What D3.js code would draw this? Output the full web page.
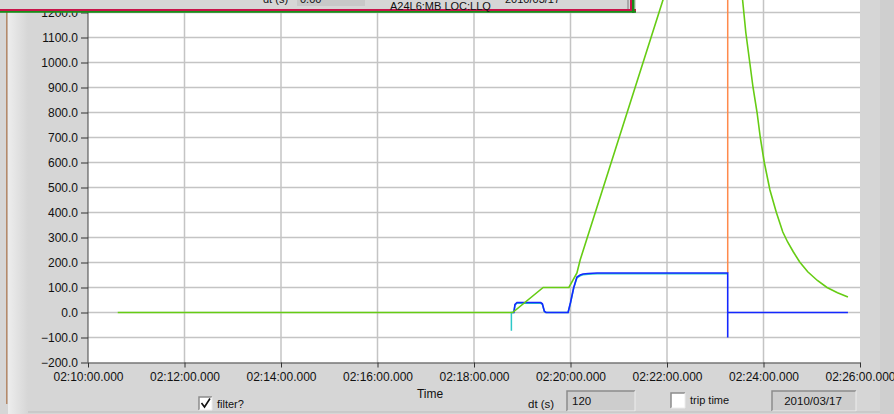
<!DOCTYPE html>
<html><head><meta charset="utf-8">
<script src="https://cdn.jsdelivr.net/npm/d3@7"></script>
<style>
html,body{margin:0;padding:0;background:#d6d6d6;overflow:hidden}
svg{display:block;font-family:"Liberation Sans",Arial,sans-serif}
</style></head>
<body>
<svg id="c" width="894" height="414"></svg>
<script>
// ---- data (seconds after 02:10:00, 2010/03/17) ----
const xTickLabels = ["02:10:00.000","02:12:00.000","02:14:00.000","02:16:00.000","02:18:00.000","02:20:00.000","02:22:00.000","02:24:00.000","02:26:00.000"];
const yTicks = [-200,-100,0,100,200,300,400,500,600,700,800,900,1000,1100,1200];

const greenT = [37, 528, 566, 598, 608, 612, 715, 796, 814, 818, 823, 827, 832, 836, 841, 848, 856, 864, 870, 877, 885, 895, 907, 919, 932, 945];
const greenV = [0, 0, 100, 100, 158, 210, 1250, 2050, 1250, 1120, 998, 900, 800, 700, 600, 490, 400, 322, 282, 243, 202, 163, 128, 100, 79, 62];

const blueT = [528, 529.5, 531, 533.5, 540, 563, 565, 567.5, 569.5, 597, 600, 604, 608, 612, 615.5, 622, 633, 795.5, 795.5, 795.5, 945];
const blueV = [0, 0, 32, 40, 40, 40, 35, 5, 0, 0, 40, 100, 142, 150, 154, 156, 158, 158, -100, 0, 0];

const cyanT = [526.5, 526.5, 529.5, 531, 533.5, 540, 563, 565, 567.5, 569.5, 597, 600, 604, 608, 612, 615.5, 622, 633, 795.5];
const cyanV = [-73, 0, 0, 30, 37, 37, 37, 33, 4, 0, 0, 38, 98, 139, 147, 151, 153, 155, 155];

const orangeT = [795.5, 795.5];
const orangeV = [158, 2600];

const bottomControls = {filter: "filter?", time: "Time", dtLabel: "dt (s)", dtValue: "120", trip: "trip time", date: "2010/03/17"};

// ---- drawing ----
const svg = d3.select("#c");
const base = new Date(2010, 2, 17, 2, 10, 0);
const toDate = s => new Date(base.getTime() + s * 1000);
const L = 88, R = 860, B = 362.5, T = 12.5;

const x = d3.scaleTime().domain([toDate(0), toDate(960)]).range([L, R]);
const y = d3.scaleLinear().domain([-200, 1200]).range([B, T]);

// left frame decoration
const grad = svg.append("defs").append("linearGradient").attr("id","lg").attr("x1","0").attr("x2","1");
grad.append("stop").attr("offset","0").attr("stop-color","#ededed");
grad.append("stop").attr("offset","1").attr("stop-color","#d6d6d6");
svg.append("rect").attr("x",8).attr("y",0).attr("width",20).attr("height",414).attr("fill","url(#lg)");
svg.append("rect").attr("x",6).attr("y",12).attr("width",1.5).attr("height",392).attr("fill","#b58a6a");
svg.append("rect").attr("x",880).attr("y",0).attr("width",14).attr("height",414).attr("fill","#cfcfcf");

// plot background
svg.append("rect").attr("x",L).attr("y",0).attr("width",R-L).attr("height",B).attr("fill","#ffffff");

svg.append("clipPath").attr("id","clip").append("rect").attr("x",L).attr("y",0).attr("width",R-L).attr("height",B);

const xTickDates = xTickLabels.map((d,i)=>toDate(i*120));

// grid
const g = svg.append("g");
g.selectAll(".vg").data(xTickDates.slice(1,-1)).join("line")
  .attr("x1",d=>x(d)).attr("x2",d=>x(d)).attr("y1",0).attr("y2",B)
  .attr("stroke","#c4c4c4").attr("stroke-width",1.5);
g.selectAll(".hg").data(yTicks.slice(1)).join("line")
  .attr("x1",L).attr("x2",R).attr("y1",d=>y(d)).attr("y2",d=>y(d))
  .attr("stroke","#c4c4c4").attr("stroke-width",1.5);

// series
const plot = svg.append("g").attr("clip-path","url(#clip)");
const line = d3.line().x(d=>x(toDate(d[0]))).y(d=>y(d[1]));
const zip = (a,b)=>a.map((t,i)=>[t,b[i]]);
plot.append("path").datum(zip(orangeT,orangeV)).attr("d",line).attr("fill","none").attr("stroke","#ff8a4c").attr("stroke-width",1.5);
plot.append("path").datum(zip(cyanT,cyanV)).attr("d",line).attr("fill","none").attr("stroke","#2cc8c8").attr("stroke-width",1.5);
plot.append("path").datum(zip(blueT,blueV)).attr("d",line).attr("fill","none").attr("stroke","#1428ff").attr("stroke-width",1.6);
plot.append("path").datum(zip(greenT,greenV)).attr("d",line).attr("fill","none").attr("stroke","#66cc14").attr("stroke-width",1.6);

// axes
const yAxis = d3.axisLeft(y).tickValues(yTicks).tickFormat(d=>d3.format(".1f")(d)).tickSize(7).tickSizeOuter(0).tickPadding(3);
const ya = svg.append("g").attr("transform",`translate(${L},0)`).call(yAxis);
ya.select(".domain").attr("d",`M0,0V${B}`);
const xAxis = d3.axisBottom(x).tickValues(xTickDates).tickFormat((d,i)=>xTickLabels[i]).tickSize(5).tickSizeOuter(0).tickPadding(5);
const xa = svg.append("g").attr("transform",`translate(0,${B})`).call(xAxis);
[ya,xa].forEach(a=>{
  a.selectAll("text").attr("fill","#111").style("font-size","12px").style("font-family","'Liberation Sans',Arial,sans-serif");
  a.selectAll("line").attr("stroke","#333");
  a.select(".domain").attr("stroke","#444");
});

// axis title
svg.append("text").attr("x",430).attr("y",398).attr("text-anchor","middle").attr("font-size",12).attr("fill","#111").text(bottomControls.time);

// bottom controls
function box(x0,y0,w,h,fill){
  svg.append("rect").attr("x",x0).attr("y",y0).attr("width",w).attr("height",h).attr("fill",fill);
  svg.append("path").attr("d",`M${x0},${y0+h}V${y0}H${x0+w}`).attr("fill","none").attr("stroke","#8c8c8c").attr("stroke-width",1.5);
  svg.append("path").attr("d",`M${x0+w},${y0}V${y0+h}H${x0}`).attr("fill","none").attr("stroke","#ececec").attr("stroke-width",1);
}
box(199,397,13,13,"#ffffff");
svg.append("path").attr("d","M201.5,403 L204.5,407 L210,398.5").attr("fill","none").attr("stroke","#111").attr("stroke-width",1.6);
svg.append("text").attr("x",217).attr("y",408).attr("font-size",11).attr("fill","#111").text(bottomControls.filter);
svg.append("text").attr("x",528).attr("y",408).attr("font-size",11.5).attr("fill","#111").text(bottomControls.dtLabel);
box(567,391,68,20,"#cdcdcd");
svg.append("text").attr("x",572).attr("y",405).attr("font-size",11.5).attr("fill","#111").text(bottomControls.dtValue);
box(671,393,14,15,"#ffffff");
svg.append("text").attr("x",690).attr("y",404).attr("font-size",11).attr("fill","#111").text(bottomControls.trip);
box(772,391,84,20,"#cdcdcd");
svg.append("text").attr("x",813).attr("y",405).attr("text-anchor","middle").attr("font-size",11.5).attr("fill","#111").text(bottomControls.date);
svg.append("line").attr("x1",28).attr("x2",880).attr("y1",412).attr("y2",412).attr("stroke","#bdbdbd");

// overlapping window at top
const ov = svg.append("g");
ov.append("rect").attr("x",0).attr("y",0).attr("width",636).attr("height",11).attr("fill","#d6d6d6");
ov.append("rect").attr("x",0).attr("y",9).attr("width",636).attr("height",2).attr("fill","#c8144a");
ov.append("rect").attr("x",0).attr("y",11).attr("width",636).attr("height",1.8).attr("fill","#1a8c1a");
ov.append("rect").attr("x",630).attr("y",0).attr("width",2).attr("height",11).attr("fill","#c8144a");
ov.append("rect").attr("x",632).attr("y",0).attr("width",2.5).attr("height",13).attr("fill","#1a8c1a");
ov.append("rect").attr("x",627).attr("y",0).attr("width",2).attr("height",9).attr("fill","#a8a8a8");
ov.append("rect").attr("x",297).attr("y",0).attr("width",68).attr("height",6).attr("fill","#c8c8c8");
ov.append("text").attr("x",263).attr("y",3).attr("font-size",11).attr("fill","#111").text("dt (s)");
ov.append("text").attr("x",300).attr("y",3).attr("font-size",11).attr("fill","#111").text("0.00");
ov.append("text").attr("x",390).attr("y",10).attr("font-size",11).attr("fill","#111").text("A24L6:MB LOC:LLQ");
ov.append("text").attr("x",505).attr("y",3).attr("font-size",11).attr("fill","#111").text("2010/03/17");
</script>
</body></html>
